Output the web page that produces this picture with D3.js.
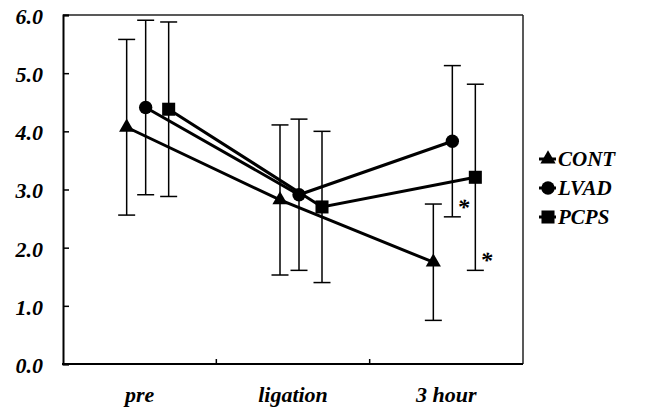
<!DOCTYPE html>
<html>
<head>
<meta charset="utf-8">
<script src="https://cdn.jsdelivr.net/npm/d3@7"></script>
<style>
body { margin: 0; background: #fff; }
text { font-family: "Liberation Serif", "Times New Roman", serif; font-weight: bold; font-style: italic; fill: #000; }
</style>
</head>
<body>
<svg id="canvas"></svg>
<script>
const categories = ["pre", "ligation", "3 hour"];
const seriesNames = ["CONT", "LVAD", "PCPS"];
const contMean = [4.07, 2.82, 1.75];
const contSD = [1.51, 1.29, 1.00];
const lvadMean = [4.41, 2.91, 3.83];
const lvadSD = [1.50, 1.30, 1.30];
const pcpsMean = [4.38, 2.70, 3.21];
const pcpsSD = [1.50, 1.30, 1.60];
const contMark = ["", "", ""];
const lvadMark = ["", "", "*"];
const pcpsMark = ["", "", "*"];
const yTicks = [0, 1, 2, 3, 4, 5, 6];

const width = 650;
const height = 410;
const plotLeft = 63, plotRight = 523, plotTop = 15, plotBottom = 364;

let canvas = d3.select("#canvas").attr('width', width).attr('height', height);

const x = d3.scaleBand().domain(categories).range([plotLeft, plotRight]).padding(0);
const y = d3.scaleLinear().domain([0, 6]).range([plotBottom, plotTop]);
// small shift of each group inside its category
const shift = d3.scaleOrdinal().domain(seriesNames).range([-13, 6, 29]);
const shapes = d3.scaleOrdinal().domain(seriesNames)
    .range([d3.symbol(d3.symbolTriangle, 100), d3.symbol(d3.symbolCircle, 140), d3.symbol(d3.symbolSquare, 170)]);

const series = [
    {name: "CONT", mean: contMean, sd: contSD, mark: contMark},
    {name: "LVAD", mean: lvadMean, sd: lvadSD, mark: lvadMark},
    {name: "PCPS", mean: pcpsMean, sd: pcpsSD, mark: pcpsMark}
].map(s => ({
    name: s.name,
    points: categories.map((c, i) => ({cat: c, name: s.name, v: s.mean[i], sd: s.sd[i], mark: s.mark[i]}))
}));

const px = d => x(d.cat) + x.bandwidth() / 2 + shift(d.name);

// frame
canvas.append('line').attr('x1', plotLeft).attr('x2', plotRight).attr('y1', plotTop).attr('y2', plotTop)
    .attr('stroke', '#222').attr('stroke-width', 1.5);
canvas.append('line').attr('x1', plotRight).attr('x2', plotRight).attr('y1', plotTop).attr('y2', plotBottom)
    .attr('stroke', '#222').attr('stroke-width', 1.5);

// y axis
const yAxis = canvas.append('g').attr('transform', `translate(${plotLeft},0)`)
    .call(d3.axisLeft(y).tickValues(yTicks).tickFormat(d3.format(".1f")).tickSize(-6).tickPadding(20));
yAxis.select('.domain').attr('stroke', '#000').attr('stroke-width', 2);
yAxis.selectAll('.tick line').attr('stroke', '#000').attr('stroke-width', 1.5);
yAxis.selectAll('text').attr('font-size', 22).attr('font-family', null).attr('dy', '0.38em');

// x axis
canvas.append('line').attr('x1', plotLeft - 1).attr('x2', plotRight).attr('y1', plotBottom).attr('y2', plotBottom)
    .attr('stroke', '#000').attr('stroke-width', 2);
canvas.selectAll('.xtick')
    .data(categories.slice(1))
    .enter()
    .append('line')
    .attr('class', 'xtick')
    .attr('x1', d => x(d)).attr('x2', d => x(d))
    .attr('y1', plotBottom).attr('y2', plotBottom - 5)
    .attr('stroke', '#000').attr('stroke-width', 1.5);
canvas.selectAll('.xlabel')
    .data(categories)
    .enter()
    .append('text')
    .attr('class', 'xlabel')
    .attr('x', d => x(d) + x.bandwidth() / 2)
    .attr('y', 402)
    .attr('text-anchor', 'middle')
    .attr('font-size', 22)
    .text(d => d);

// error bars
const bars = canvas.selectAll('.err')
    .data(series.flatMap(s => s.points))
    .enter()
    .append('g')
    .attr('class', 'err')
    .attr('stroke', '#000')
    .attr('stroke-width', 1.5);
bars.append('line')
    .attr('x1', px).attr('x2', px)
    .attr('y1', d => y(d.v + d.sd)).attr('y2', d => y(d.v - d.sd));
bars.append('line')
    .attr('x1', d => px(d) - 8.5).attr('x2', d => px(d) + 8.5)
    .attr('y1', d => y(d.v + d.sd)).attr('y2', d => y(d.v + d.sd));
bars.append('line')
    .attr('x1', d => px(d) - 8.5).attr('x2', d => px(d) + 8.5)
    .attr('y1', d => y(d.v - d.sd)).attr('y2', d => y(d.v - d.sd));

// lines
const line = d3.line().x(px).y(d => y(d.v));
canvas.selectAll('.series')
    .data(series)
    .enter()
    .append('path')
    .attr('class', 'series')
    .attr('d', s => line(s.points))
    .attr('fill', 'none')
    .attr('stroke', '#000')
    .attr('stroke-width', 3);

// markers
canvas.selectAll('.marker')
    .data(series.flatMap(s => s.points))
    .enter()
    .append('path')
    .attr('class', 'marker')
    .attr('transform', d => `translate(${px(d)},${y(d.v)})`)
    .attr('d', d => shapes(d.name)())
    .attr('fill', '#000');

// significance marks
canvas.selectAll('.sig')
    .data(series.flatMap(s => s.points).filter(d => d.mark))
    .enter()
    .append('text')
    .attr('class', 'sig')
    .attr('x', d => px(d) + 5)
    .attr('y', d => y(d.v - d.sd) - 2)
    .attr('font-size', 24)
    .attr('font-style', 'normal')
    .text(d => d.mark);

// legend
const legend = canvas.selectAll('.legend')
    .data(seriesNames)
    .enter()
    .append('g')
    .attr('class', 'legend')
    .attr('transform', (d, i) => `translate(548,${159 + i * 29})`);
legend.append('line').attr('x1', -9).attr('x2', 8).attr('y1', 0).attr('y2', 0)
    .attr('stroke', '#000').attr('stroke-width', 3);
legend.append('path').attr('d', d => shapes(d)()).attr('fill', '#000');
legend.append('text').attr('x', 10).attr('dy', '0.35em').attr('font-size', 21).text(d => d);
</script>
</body>
</html>
